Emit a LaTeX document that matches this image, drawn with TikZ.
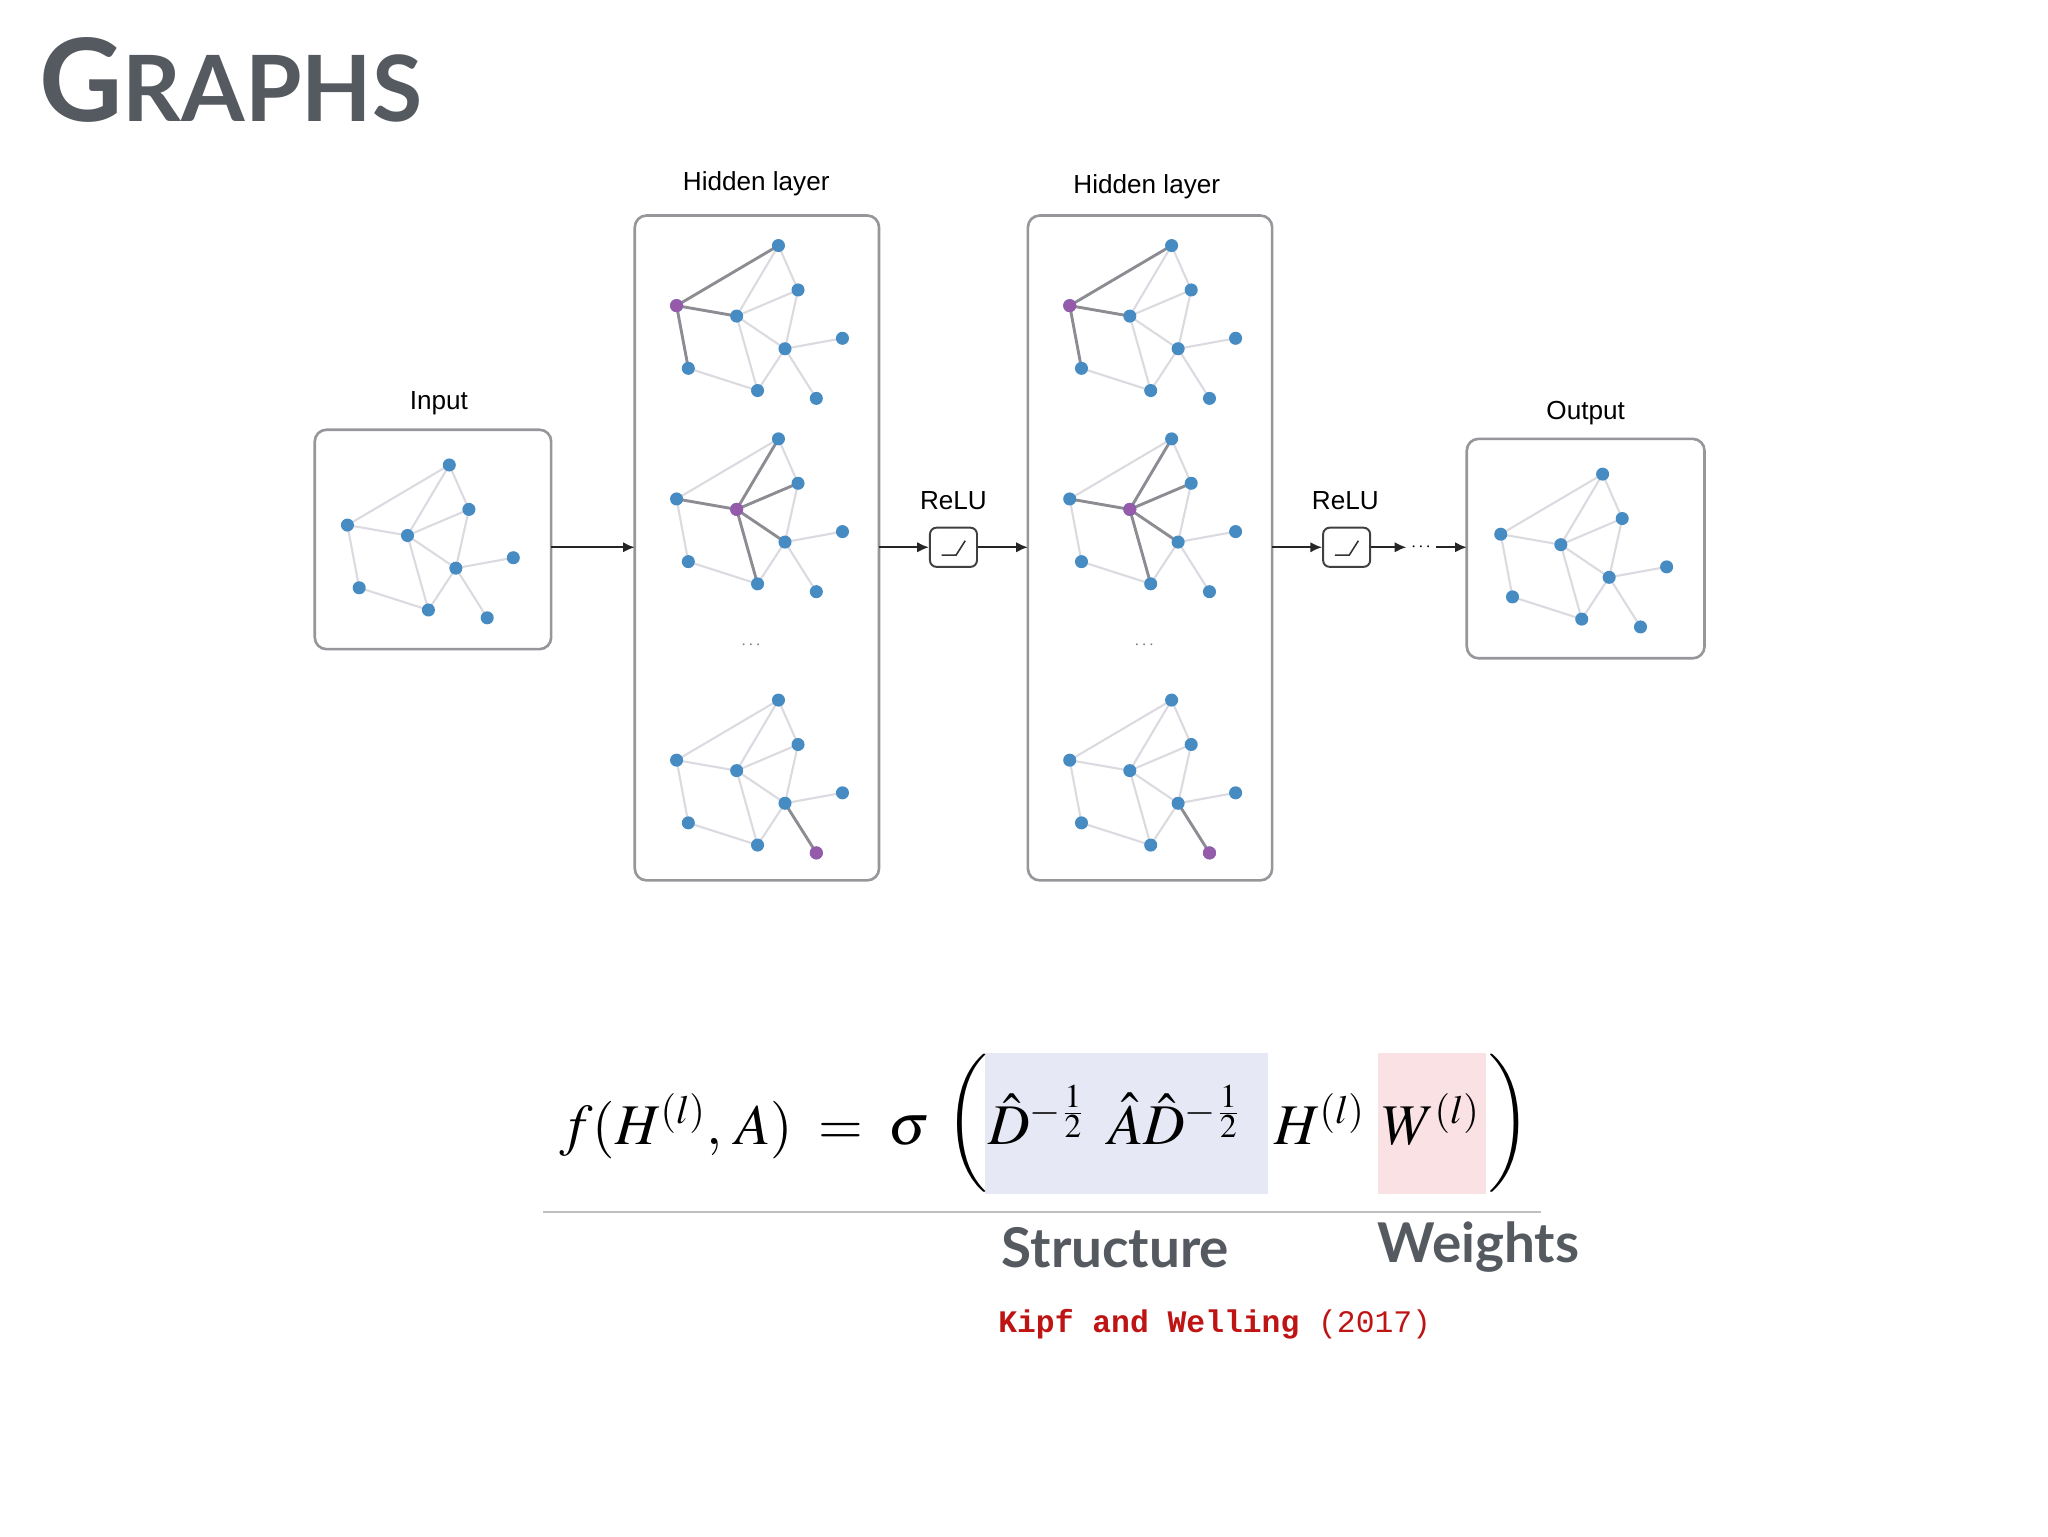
\documentclass[tikz,border=0pt]{standalone}
\usepackage{fontspec}
\usepackage{mathptmx}
\setsansfont{Liberation Sans}
\newfontfamily\titlefont{Lato}
\setmonofont{Liberation Mono}
\usetikzlibrary{arrows.meta}
\definecolor{gblue}{RGB}{70,140,195}
\definecolor{gpurp}{RGB}{150,90,170}
\definecolor{ledgec}{RGB}{218,218,224}
\definecolor{dedgec}{RGB}{140,140,146}
\definecolor{boxc}{RGB}{150,150,155}
\definecolor{titlec}{RGB}{85,90,96}
\definecolor{strc}{RGB}{230,232,245}
\definecolor{wtc}{RGB}{250,225,228}
\definecolor{kred}{RGB}{190,20,20}
\tikzset{
 gdot/.style={circle,fill=gblue,inner sep=0pt,minimum size=10pt},
 pdot/.style={circle,fill=gpurp,inner sep=0pt,minimum size=10pt},
 ledge/.style={draw=ledgec,line width=1.6pt},
 dedge/.style={draw=dedgec,line width=2.2pt},
 gbox/.style={draw=boxc,line width=2pt,rounded corners=9pt},
 lbl/.style={font=\sffamily\fontsize{20}{24}\selectfont},
 arr/.style={draw=black!85,line width=1.6pt,-{Latex[length=9pt,width=8pt]}},
 relu/.style={draw=black!75,line width=1.5pt,rounded corners=5pt,minimum width=36pt,minimum height=30pt},
 fpart/.style={anchor=base west,inner sep=0pt,scale=2.55},
}
\newcommand\gnet[3]{%
 \begin{scope}[shift={#2}]
  \foreach \n/\x/\y in {A/0/0,B/15/34,C/-78/46,D/-32/54,E/5/79,F/49/71,G/-69/94,H/-16/111,I/29/117}
    \coordinate (#1c\n) at (\x,\y);
  \foreach \u/\v in {C/A,A/D,A/B,C/D,D/B,B/E,D/E,D/H,E/F,E/H,E/I,C/G,G/H}
    \draw[ledge] (#1c\u) -- (#1c\v);
  \foreach \u/\v in {#3}
    \draw[dedge] (#1c\u) -- (#1c\v);
  \foreach \n in {A,B,C,D,E,F,G,H,I}
    \node[gdot] (#1\n) at (#1c\n) {};
 \end{scope}}
\begin{document}
\begin{tikzpicture}[x=1pt,y=-1pt]
\useasboundingbox (0,0) rectangle (1568,1176);
% title
\node[anchor=base west,text=titlec,inner sep=0pt] (title) at (30,93)
  {\titlefont\bfseries\fontsize{88}{90}\selectfont G\fontsize{70}{72}\selectfont RAPHS};
% boxes
\draw[gbox] (241,329) rectangle (422,497);
\draw[gbox] (486,165) rectangle (673,674);
\draw[gbox] (787,165) rectangle (974,674);
\draw[gbox] (1123,336) rectangle (1305,504);
\node[lbl] (linput) at (336,309) {Input};
\node[lbl] (lh1) at (579,141) {Hidden layer};
\node[lbl] (lh2) at (878,143) {Hidden layer};
\node[lbl] (lout) at (1214,316) {Output};
\node[text=gray] (d1) at (575,494) {\sffamily\Large $\cdots$};
\node[text=gray] (d2) at (876,494) {\sffamily\Large $\cdots$};
% graphs
\gnet{in}{(344,356)}{A/A}
\gnet{ha}{(596,188)}{C/A,C/D,C/G}
\node[pdot] (haP) at (hacC) {};
\gnet{hb}{(596,336)}{D/A,D/B,D/C,D/E,D/H}
\node[pdot] (hbP) at (hbcD) {};
\gnet{hc}{(596,536)}{E/I}
\node[pdot] (hcP) at (hccI) {};
\gnet{ka}{(897,188)}{C/A,C/D,C/G}
\node[pdot] (kaP) at (kacC) {};
\gnet{kb}{(897,336)}{D/A,D/B,D/C,D/E,D/H}
\node[pdot] (kbP) at (kbcD) {};
\gnet{kc}{(897,536)}{E/I}
\node[pdot] (kcP) at (kccI) {};
\gnet{out}{(1227,363)}{A/A}
% arrows and relu
\coordinate (a1s) at (422,419); \coordinate (a1e) at (486,419);
\draw[arr] (a1s) -- (a1e);
\node[relu] (r1) at (730,419) {};
\draw[black!80,line width=1.2pt] ([shift={(-9,6)}]r1.center) -- ([shift={(2,6)}]r1.center) -- ([shift={(9,-5)}]r1.center);
\node[lbl] (lr1) at (730,383) {ReLU};
\coordinate (a2s) at (673,419);
\draw[arr] (a2s) -- (r1.west);
\coordinate (a3e) at (787,419);
\draw[arr] (r1.east) -- (a3e);
\node[relu] (r2) at (1031,419) {};
\draw[black!80,line width=1.2pt] ([shift={(-9,6)}]r2.center) -- ([shift={(2,6)}]r2.center) -- ([shift={(9,-5)}]r2.center);
\node[lbl] (lr2) at (1030,383) {ReLU};
\coordinate (a4s) at (974,419);
\draw[arr] (a4s) -- (r2.west);
\node[inner sep=0pt,minimum width=22pt] (dots) at (1088,419) {\sffamily\Large $\cdots$};
\draw[arr] (r2.east) -- (dots.west);
\coordinate (a6e) at (1123,419);
\draw[arr] (dots.east) -- (a6e);
% formula
\fill[strc] (754,806) rectangle (971,914);
\fill[wtc] (1055,806) rectangle (1138,914);
\node[fpart] (f1) at (428,876) {\LARGE $f(H^{(l)},\,A)\;=\;\sigma$};
\node[inner sep=0pt,scale=2.55] (fpl) at (740,860) {\LARGE $\bigg($};
\node[fpart] (f2) at (756,876) {\LARGE $\hat D^{-\frac{1}{2}}$};
\node[fpart] (f3) at (848,876) {\LARGE $\hat A\hat D^{-\frac{1}{2}}$};
\node[fpart] (f4) at (975,876) {\LARGE $H^{(l)}$};
\node[fpart] (f5) at (1058,876) {\LARGE $W^{(l)}$};
\node[inner sep=0pt,scale=2.55] (fpr) at (1156,860) {\LARGE $\bigg)$};
\coordinate (ls) at (416,928); \coordinate (le) at (1180,928);
\draw[black!25,line width=1.5pt] (ls) -- (le);
\node[text=titlec,font=\titlefont\bfseries\fontsize{42}{46}\selectfont] (lstr) at (854,955) {Structure};
\node[text=titlec,font=\titlefont\bfseries\fontsize{42}{46}\selectfont] (lwt) at (1132,955) {Weights};
\node[text=kred,font=\ttfamily\fontsize{24}{27}\selectfont] (cite) at (930,1014) {\textbf{Kipf and Welling} (2017)};
\end{tikzpicture}
\end{document}
